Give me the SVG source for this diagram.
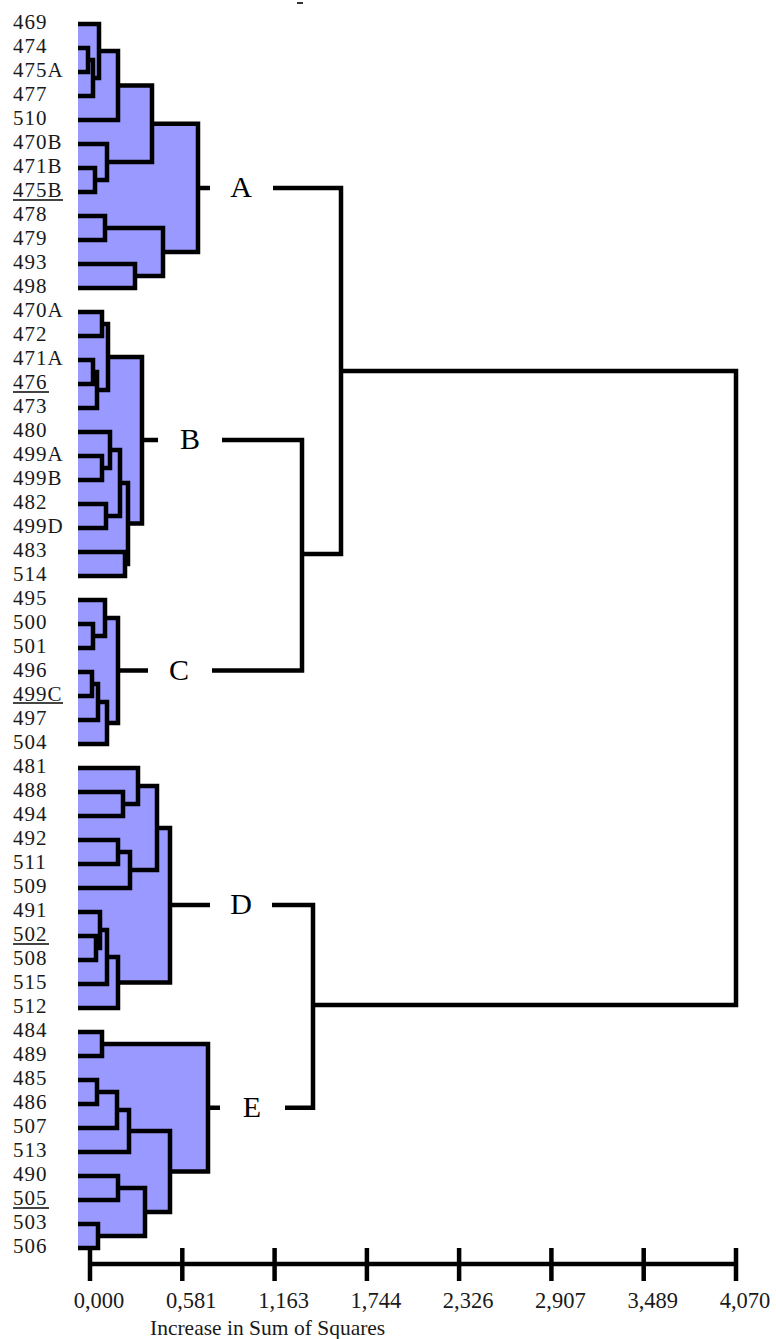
<svg xmlns="http://www.w3.org/2000/svg" width="776" height="1339" viewBox="0 0 776 1339">
<style>
.f{fill:#9999ff;stroke:none}
.l{fill:none;stroke:#000;stroke-width:4.5;stroke-linejoin:miter;stroke-linecap:butt}
.t{font-family:"Liberation Serif","Times New Roman",serif;font-size:21px;letter-spacing:1px;fill:#1a1a1a}
.u{stroke:#444;stroke-width:2}
.g{font-family:"Liberation Serif","Times New Roman",serif;font-size:30px;fill:#000;text-anchor:middle}
.a{font-family:"Liberation Serif","Times New Roman",serif;font-size:22.5px;fill:#1a1a1a;text-anchor:middle}
.x{font-family:"Liberation Serif","Times New Roman",serif;font-size:21.5px;fill:#1a1a1a}
</style>
<rect x="297" y="2" width="6" height="2" fill="#333"/>
<g id="cluster-A">
<rect class="f" x="78" y="48" width="10" height="24"/>
<rect class="f" x="78" y="60" width="15" height="36"/>
<rect class="f" x="78" y="24" width="21" height="54"/>
<rect class="f" x="78" y="51" width="40" height="69"/>
<rect class="f" x="78" y="168" width="17" height="24"/>
<rect class="f" x="78" y="144" width="29" height="36"/>
<rect class="f" x="78" y="85.5" width="74" height="76.5"/>
<rect class="f" x="78" y="216" width="27" height="24"/>
<rect class="f" x="78" y="264" width="57" height="24"/>
<rect class="f" x="78" y="228" width="85" height="48"/>
<rect class="f" x="78" y="123.75" width="120" height="128.25"/>
<path class="l" d="M78 48H88V72H78M88 60H93V96H78M78 24H99V78H93M99 51H118V120H78M78 168H95V192H78M78 144H107V180H95M118 85.5H152V162H107M78 216H105V240H78M78 264H135V288H78M105 228H163V276H135M152 123.75H198V252H163M198 188H210"/>
<text class="t" x="13" y="28.5">469</text>
<text class="t" x="13" y="52.5">474</text>
<text class="t" x="13" y="76.5">475A</text>
<text class="t" x="13" y="100.5">477</text>
<text class="t" x="13" y="124.5">510</text>
<text class="t" x="13" y="148.5">470B</text>
<text class="t" x="13" y="172.5">471B</text>
<text class="t" x="13" y="196.5">475B</text>
<line class="u" x1="13" y1="200" x2="63" y2="200"/>
<text class="t" x="13" y="220.5">478</text>
<text class="t" x="13" y="244.5">479</text>
<text class="t" x="13" y="268.5">493</text>
<text class="t" x="13" y="292.5">498</text>
<text class="g" x="241" y="197">A</text>
</g>
<g id="cluster-B">
<rect class="f" x="78" y="312" width="24" height="24"/>
<rect class="f" x="78" y="360" width="15" height="24"/>
<rect class="f" x="78" y="372" width="19" height="36"/>
<rect class="f" x="78" y="324" width="30" height="66"/>
<rect class="f" x="78" y="456" width="24" height="24"/>
<rect class="f" x="78" y="432" width="32" height="36"/>
<rect class="f" x="78" y="504" width="28" height="24"/>
<rect class="f" x="78" y="450" width="42" height="66"/>
<rect class="f" x="78" y="552" width="47" height="24"/>
<rect class="f" x="78" y="483" width="50" height="81"/>
<rect class="f" x="78" y="357" width="64" height="166.5"/>
<path class="l" d="M78 312H102V336H78M78 360H93V384H78M93 372H97V408H78M102 324H108V390H97M78 456H102V480H78M78 432H110V468H102M78 504H106V528H78M110 450H120V516H106M78 552H125V576H78M120 483H128V564H125M108 357H142V523.5H128M142 440H158"/>
<text class="t" x="13" y="316.5">470A</text>
<text class="t" x="13" y="340.5">472</text>
<text class="t" x="13" y="364.5">471A</text>
<text class="t" x="13" y="388.5">476</text>
<line class="u" x1="13" y1="392" x2="49" y2="392"/>
<text class="t" x="13" y="412.5">473</text>
<text class="t" x="13" y="436.5">480</text>
<text class="t" x="13" y="460.5">499A</text>
<text class="t" x="13" y="484.5">499B</text>
<text class="t" x="13" y="508.5">482</text>
<text class="t" x="13" y="532.5">499D</text>
<text class="t" x="13" y="556.5">483</text>
<text class="t" x="13" y="580.5">514</text>
<text class="g" x="190" y="449">B</text>
</g>
<g id="cluster-C">
<rect class="f" x="78" y="624" width="15" height="24"/>
<rect class="f" x="78" y="600" width="27" height="36"/>
<rect class="f" x="78" y="672" width="14" height="24"/>
<rect class="f" x="78" y="684" width="20" height="36"/>
<rect class="f" x="78" y="702" width="29" height="42"/>
<rect class="f" x="78" y="618" width="40" height="105"/>
<path class="l" d="M78 624H93V648H78M78 600H105V636H93M78 672H92V696H78M92 684H98V720H78M98 702H107V744H78M105 618H118V723H107M118 670.5H148"/>
<text class="t" x="13" y="604.5">495</text>
<text class="t" x="13" y="628.5">500</text>
<text class="t" x="13" y="652.5">501</text>
<text class="t" x="13" y="676.5">496</text>
<text class="t" x="13" y="700.5">499C</text>
<line class="u" x1="13" y1="703" x2="63" y2="703"/>
<text class="t" x="13" y="724.5">497</text>
<text class="t" x="13" y="748.5">504</text>
<text class="g" x="179" y="680">C</text>
</g>
<g id="cluster-D">
<rect class="f" x="78" y="792" width="45" height="24"/>
<rect class="f" x="78" y="768" width="60" height="36"/>
<rect class="f" x="78" y="840" width="40" height="24"/>
<rect class="f" x="78" y="852" width="52" height="36"/>
<rect class="f" x="78" y="786" width="79" height="84"/>
<rect class="f" x="78" y="936" width="18" height="24"/>
<rect class="f" x="78" y="912" width="22" height="36"/>
<rect class="f" x="78" y="930" width="29" height="54"/>
<rect class="f" x="78" y="957" width="40" height="51"/>
<rect class="f" x="78" y="828" width="92" height="154.5"/>
<path class="l" d="M78 792H123V816H78M78 768H138V804H123M78 840H118V864H78M118 852H130V888H78M138 786H157V870H130M78 936H96V960H78M78 912H100V948H96M100 930H107V984H78M107 957H118V1008H78M157 828H170V982.5H118M170 905H210"/>
<text class="t" x="13" y="772.5">481</text>
<text class="t" x="13" y="796.5">488</text>
<text class="t" x="13" y="820.5">494</text>
<text class="t" x="13" y="844.5">492</text>
<text class="t" x="13" y="868.5">511</text>
<text class="t" x="13" y="892.5">509</text>
<text class="t" x="13" y="916.5">491</text>
<text class="t" x="13" y="940.5">502</text>
<line class="u" x1="13" y1="944" x2="49" y2="944"/>
<text class="t" x="13" y="964.5">508</text>
<text class="t" x="13" y="988.5">515</text>
<text class="t" x="13" y="1012.5">512</text>
<text class="g" x="241" y="914">D</text>
</g>
<g id="cluster-E">
<rect class="f" x="78" y="1032" width="24" height="24"/>
<rect class="f" x="78" y="1080" width="19" height="24"/>
<rect class="f" x="78" y="1092" width="39" height="36"/>
<rect class="f" x="78" y="1110" width="51" height="42"/>
<rect class="f" x="78" y="1176" width="40" height="24"/>
<rect class="f" x="78" y="1224" width="20" height="24"/>
<rect class="f" x="78" y="1188" width="67" height="48"/>
<rect class="f" x="78" y="1131" width="92" height="81"/>
<rect class="f" x="78" y="1044" width="130" height="127.5"/>
<path class="l" d="M78 1032H102V1056H78M78 1080H97V1104H78M97 1092H117V1128H78M117 1110H129V1152H78M78 1176H118V1200H78M78 1224H98V1248H78M118 1188H145V1236H98M129 1131H170V1212H145M102 1044H208V1171.5H170M208 1107.75H220"/>
<text class="t" x="13" y="1036.5">484</text>
<text class="t" x="13" y="1060.5">489</text>
<text class="t" x="13" y="1084.5">485</text>
<text class="t" x="13" y="1108.5">486</text>
<text class="t" x="13" y="1132.5">507</text>
<text class="t" x="13" y="1156.5">513</text>
<text class="t" x="13" y="1180.5">490</text>
<text class="t" x="13" y="1204.5">505</text>
<line class="u" x1="13" y1="1208" x2="49" y2="1208"/>
<text class="t" x="13" y="1228.5">503</text>
<text class="t" x="13" y="1252.5">506</text>
<text class="g" x="252" y="1117">E</text>
</g>
<g id="connectors">
<path class="l" d="M273 188H341V554H302M222 440H302V670.5H212M341 371H736V1005H313M272 905H313V1107.75H285"/>
</g>
<g id="axis">
<path class="l" d="M90 1264H736M90 1248V1281M182.3 1248V1281M274.6 1248V1281M366.9 1248V1281M459.1 1248V1281M551.4 1248V1281M643.7 1248V1281M736 1248V1281"/>
<text class="a" x="99" y="1308">0,000</text>
<text class="a" x="191.3" y="1308">0,581</text>
<text class="a" x="283.6" y="1308">1,163</text>
<text class="a" x="375.9" y="1308">1,744</text>
<text class="a" x="468.1" y="1308">2,326</text>
<text class="a" x="560.4" y="1308">2,907</text>
<text class="a" x="652.7" y="1308">3,489</text>
<text class="a" x="745" y="1308">4,070</text>
<text class="x" x="150" y="1335">Increase in Sum of Squares</text>
</g>
</svg>
